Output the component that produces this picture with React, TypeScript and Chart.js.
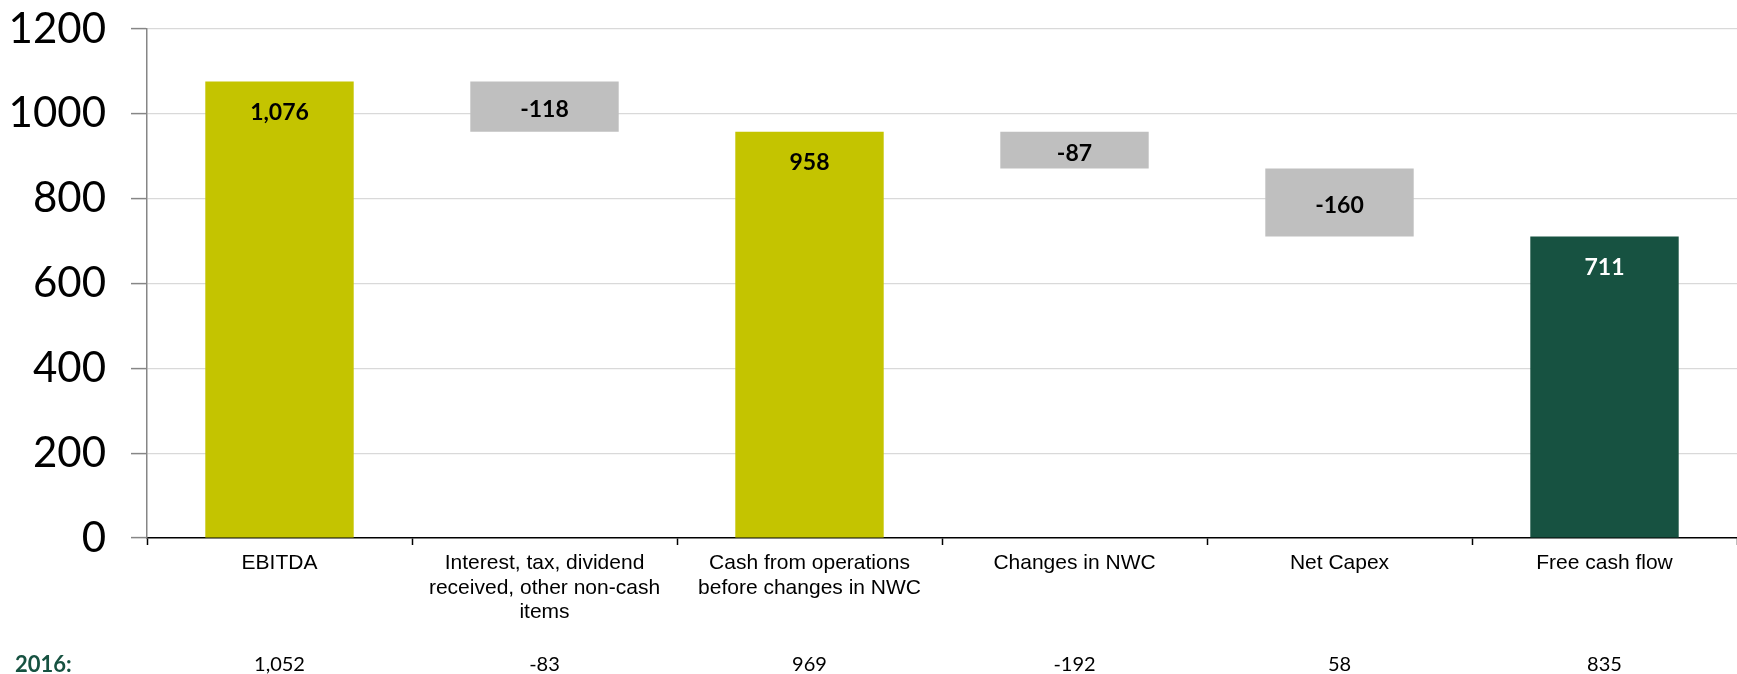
import React, { useEffect, useRef } from "react";
import { Chart, registerables } from "chart.js";

Chart.register(...registerables);

// ---- data ----
const categories: string[][] = [
  ["EBITDA"],
  ["Interest, tax, dividend", "received, other non-cash", "items"],
  ["Cash from operations", "before changes in NWC"],
  ["Changes in NWC"],
  ["Net Capex"],
  ["Free cash flow"],
];
const values: number[] = [1076, -118, 958, -87, -160, 711];
const isTotal: boolean[] = [true, false, true, false, false, true];
const valueLabels: string[] = ["1,076", "-118", "958", "-87", "-160", "711"];
const priorYearTitle = "2016:";
const priorYearValues: string[] = ["1,052", "-83", "969", "-192", "58", "835"];
const yTickValues: number[] = [0, 200, 400, 600, 800, 1000, 1200];

// ---- styles ----
const YELLOW = "#C4C400";
const GREY = "#BFBFBF";
const DARK_GREEN = "#175241";
const barColors = [YELLOW, GREY, YELLOW, GREY, GREY, DARK_GREEN];
const labelColors = ["#000", "#000", "#000", "#000", "#000", "#fff"];

function buildFloating(): [number, number][] {
  let running = 0;
  return values.map((v, i) => {
    if (isTotal[i]) {
      running = v;
      return [0, v] as [number, number];
    }
    const start = running;
    running += v;
    return [running, start] as [number, number];
  });
}

const labelPlugin = {
  id: "waterfallLabels",
  afterDatasetsDraw(chart: any) {
    const { ctx } = chart;
    const meta = chart.getDatasetMeta(0);
    ctx.save();
    ctx.textAlign = "center";
    ctx.textBaseline = "middle";
    ctx.font = "bold 23px Lato, 'Open Sans', sans-serif";
    meta.data.forEach((bar: any, i: number) => {
      const top = Math.min(bar.y, bar.base);
      const bottom = Math.max(bar.y, bar.base);
      const y = isTotal[i] ? top + 31 : (top + bottom) / 2 + 3;
      ctx.fillStyle = labelColors[i];
      ctx.fillText(valueLabels[i], bar.x, y);
    });
    // prior-year row
    const xScale = chart.scales.x;
    const rowY = 665;
    ctx.font = "20px Lato, 'Open Sans', sans-serif";
    ctx.fillStyle = "#000";
    priorYearValues.forEach((t, i) => {
      ctx.fillText(t, xScale.getPixelForValue(i), rowY);
    });
    ctx.textAlign = "left";
    ctx.font = "bold 22px Lato, 'Open Sans', sans-serif";
    ctx.fillStyle = DARK_GREEN;
    ctx.fillText(priorYearTitle, 15, rowY);
    ctx.restore();
  },
};

export default function App() {
  const canvasRef = useRef<HTMLCanvasElement | null>(null);

  useEffect(() => {
    if (!canvasRef.current) return;
    const chart = new Chart(canvasRef.current, {
      type: "bar",
      data: {
        labels: categories,
        datasets: [
          {
            data: buildFloating() as any,
            backgroundColor: barColors,
            borderWidth: 0,
            barPercentage: 0.56,
            categoryPercentage: 1,
          },
        ],
      },
      options: {
        animation: false,
        responsive: true,
        maintainAspectRatio: false,
        devicePixelRatio: 1,
        layout: { padding: { top: 29, right: 0, left: 0, bottom: 0 } },
        plugins: {
          legend: { display: false },
          tooltip: { enabled: false },
          title: { display: false },
        },
        scales: {
          x: {
            type: "category",
            offset: true,
            grid: {
              offset: true,
              drawOnChartArea: false,
              drawTicks: true,
              tickLength: 7,
              tickColor: "#000",
              tickWidth: 1.5,
            },
            border: { color: "#000", width: 1.5 },
            ticks: {
              color: "#000",
              font: { family: "'Liberation Sans', Arial, sans-serif", size: 21, lineHeight: 1.17 },
              padding: 6,
              maxRotation: 0,
              minRotation: 0,
              autoSkip: false,
            },
            afterFit(scale: any) {
              scale.height = 136;
              scale.paddingLeft = 0;
              scale.paddingRight = 0;
            },
          },
          y: {
            min: 0,
            max: 1200,
            afterBuildTicks(scale: any) {
              scale.ticks = yTickValues.map((v) => ({ value: v }));
            },
            ticks: {
              color: "#000",
              font: { family: "Lato, 'Open Sans', sans-serif", size: 42 },
              padding: 25,
              callback: (v: any) => String(v),
            },
            grid: {
              color: (c: any) => (c.tick && c.tick.value === 0 ? "rgba(0,0,0,0)" : "#D9D9D9"),
              lineWidth: 1.2,
              tickColor: "#868686",
              tickLength: 16,
              tickWidth: 1.5,
            },
            border: { color: "#868686", width: 1.5 },
            afterFit(scale: any) {
              scale.width = 147;
              scale.paddingTop = 0;
              scale.paddingBottom = 0;
            },
          },
        },
      },
      plugins: [labelPlugin],
    });
    return () => chart.destroy();
  }, []);

  return (
    <div style={{ position: "absolute", left: 0, top: 0, width: 1737, height: 674, background: "#fff" }}>
      <canvas ref={canvasRef} />
    </div>
  );
}
